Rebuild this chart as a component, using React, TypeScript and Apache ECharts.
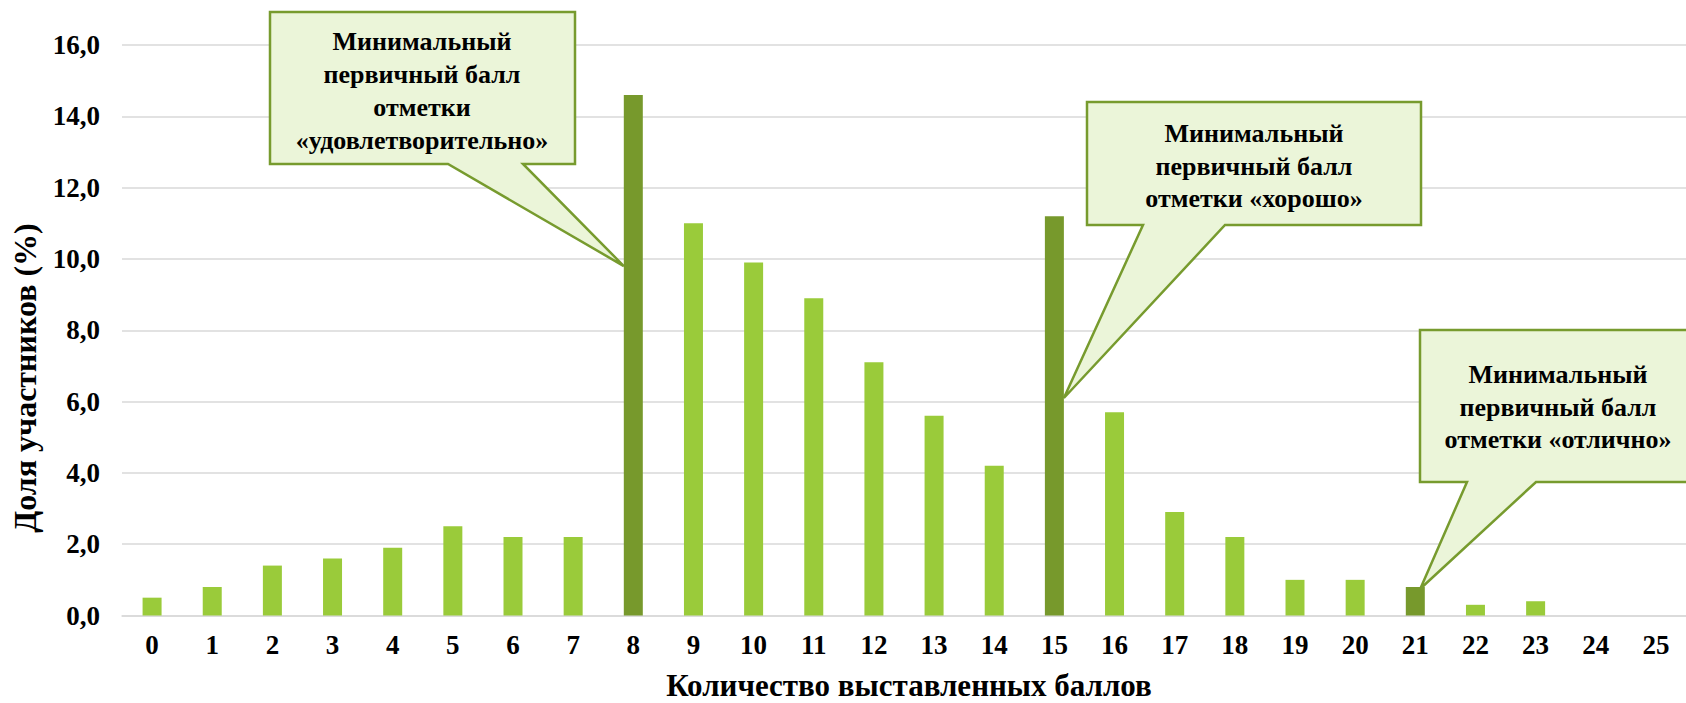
import React, { useEffect, useRef } from "react";
import * as echarts from "echarts";

const scores = ["0","1","2","3","4","5","6","7","8","9","10","11","12","13","14","15","16","17","18","19","20","21","22","23","24","25"];
const shares = [0.5, 0.8, 1.4, 1.6, 1.9, 2.5, 2.2, 2.2, 14.6, 11.0, 9.9, 8.9, 7.1, 5.6, 4.2, 11.2, 5.7, 2.9, 2.2, 1.0, 1.0, 0.8, 0.3, 0.4, 0, 0];
const thresholdScores = ["8", "15", "21"];
const yTicks = [0, 2, 4, 6, 8, 10, 12, 14, 16];

const calloutTexts = [
  "Минимальный\nпервичный балл\nотметки\n«удовлетворительно»",
  "Минимальный\nпервичный балл\nотметки «хорошо»",
  "Минимальный\nпервичный балл\nотметки «отлично»",
];

const LIGHT = "#9ACB3A";
const DARK = "#77992C";
const FILL = "#EBF5D9";
const EDGE = "#779B2E";
const FONT = "Liberation Serif";
const BAR_W = 19;

export default function App() {
  const ref = useRef<HTMLDivElement>(null);
  useEffect(() => {
    document.body.style.margin = "0";
    const chart = echarts.init(ref.current!, null, { renderer: "svg" });
    chart.setOption({
      animation: false,
      backgroundColor: "#fff",
      grid: { left: 122, top: 45, bottom: 87.5, width: 1576, containLabel: false },
      xAxis: {
        type: "category",
        data: scores,
        axisLine: { show: true, lineStyle: { color: "#D9D9D9", width: 1.5 } },
        axisTick: { show: false },
        axisLabel: { color: "#000", fontFamily: FONT, fontWeight: "bold", fontSize: 27, margin: 16 },
      },
      yAxis: {
        type: "value",
        min: yTicks[0],
        max: yTicks[yTicks.length - 1],
        interval: 2,
        axisLine: { show: false },
        axisTick: { show: false },
        splitLine: { lineStyle: { color: "#D9D9D9", width: 1.5 } },
        axisLabel: {
          color: "#000", fontFamily: FONT, fontWeight: "bold", fontSize: 27, margin: 22,
          formatter: (v: number) => v.toFixed(1).replace(".", ","),
        },
      },
      series: [
        {
          type: "bar",
          barWidth: BAR_W,
          data: shares.map((v, i) => ({
            value: v,
            itemStyle: { color: thresholdScores.includes(scores[i]) ? DARK : LIGHT },
          })),
        },
      ],
    });

    const px = (cat: string, val: number) => chart.convertToPixel({ gridIndex: 0 }, [cat, val]) as number[];
    const t1 = px("8", 9.8); t1[0] -= BAR_W / 2;
    const t2 = px("15", 6.1); t2[0] += BAR_W / 2;
    const t3 = px("21", 0.75); t3[0] += 5;

    const callout = (box: number[], base: number[], tip: number[]) => {
      const [l, t, r, b] = box;
      return {
        type: "polygon",
        shape: { points: [[l, t], [r, t], [r, b], [base[1], b], tip, [base[0], b], [l, b]] },
        style: { fill: FILL, stroke: EDGE, lineWidth: 2.5 },
        z: 10,
      };
    };
    const txt = (text: string, x: number, y: number, size: number, extra: any = {}) => ({
      type: "text",
      x, y, z: 11,
      ...extra,
      style: {
        text, x: 0, y: 0, align: "center", verticalAlign: "middle",
        fontFamily: FONT, fontWeight: "bold", fontSize: size, fill: "#000", lineHeight: 32.7,
      },
    });

    chart.setOption({
      graphic: [
        callout([270, 12, 575, 164], [448, 523], t1),
        txt(calloutTexts[0], 422, 91, 26),
        callout([1087, 102, 1421, 225], [1143, 1225], t2),
        txt(calloutTexts[1], 1254, 166, 26),
        callout([1420, 330, 1700, 482], [1467, 1536], t3),
        txt(calloutTexts[2], 1558, 407, 26),
        txt("Доля участников (%)", 25, 378, 32, { rotation: Math.PI / 2 }),
        txt("Количество выставленных баллов", 909, 685, 31),
      ],
    });
    return () => chart.dispose();
  }, []);
  return <div ref={ref} style={{ position: "absolute", left: 0, top: 0, width: 1686, height: 703 }} />;
}
